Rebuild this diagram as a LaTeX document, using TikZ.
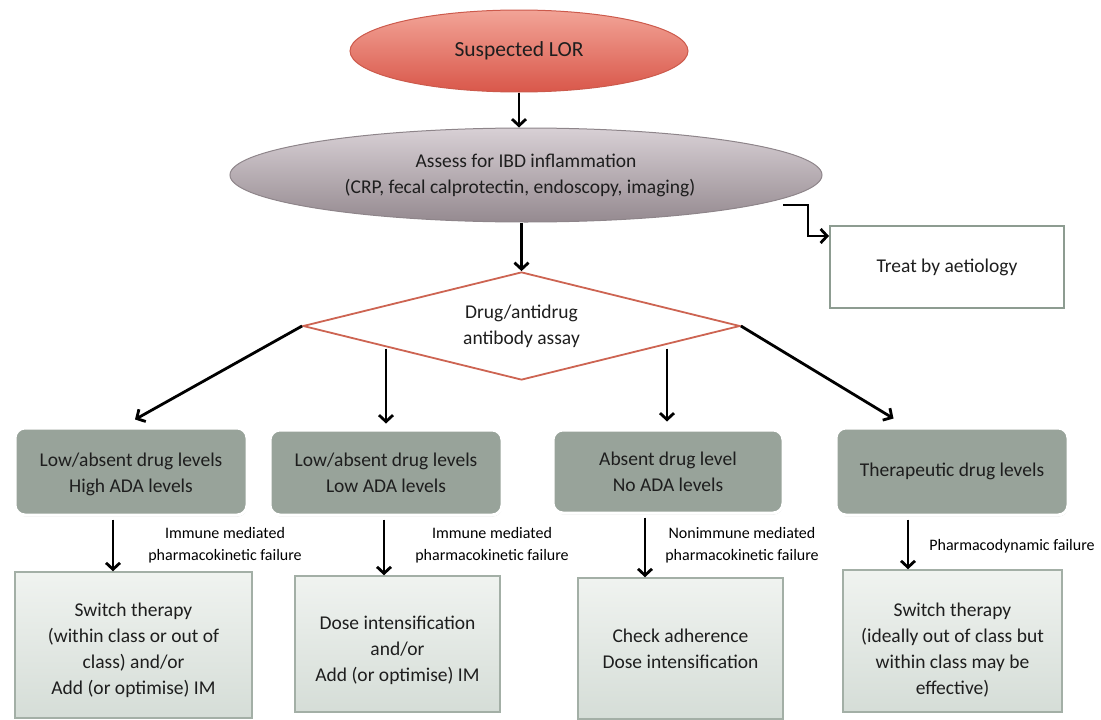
\documentclass[tikz,border=0pt]{standalone}
\usepackage{fontspec}
\setmainfont{Carlito}
\usetikzlibrary{shapes.geometric,arrows.meta,calc,shadows}
\definecolor{lorTop}{HTML}{F2A497}
\definecolor{lorBot}{HTML}{D9574A}
\definecolor{lorLine}{HTML}{CC5A4C}
\definecolor{asTop}{HTML}{D8D0D5}
\definecolor{asBot}{HTML}{958A90}
\definecolor{asLine}{HTML}{8E858A}
\definecolor{diaLine}{HTML}{CD6452}
\definecolor{gboxfill}{HTML}{98A39A}
\definecolor{bTop}{HTML}{F0F3F0}
\definecolor{bBot}{HTML}{D5DDD7}
\definecolor{bLine}{HTML}{A3AFA6}
\definecolor{tLine}{HTML}{8D9C91}
\definecolor{txt}{HTML}{1E1E1E}
\newcommand{\lowerby}[1]{\rule{0pt}{#1}}
\begin{document}
\begin{tikzpicture}[x=1pt,y=-1pt,
  font=\fontsize{19.5}{26}\selectfont, text=txt,
  arr/.style={line width=2.8pt, -{Straight Barb[length=6.5pt,width=14pt]}},
  greybox/.style={rectangle, rounded corners=10pt, fill=gboxfill, draw=white,
    line width=3pt, align=center, inner sep=2pt,
    drop shadow={shadow xshift=0.5pt, shadow yshift=-1.5pt, opacity=0.3, fill=gray}},
  actbox/.style={rectangle, top color=bTop, bottom color=bBot, draw=bLine,
    line width=1.5pt, align=center, inner sep=2pt},
  lbl/.style={font=\fontsize{16}{22}\selectfont, align=center, text=black}]
\useasboundingbox (0,0) rectangle (1101,720);

\node[ellipse, top color=lorTop, bottom color=lorBot, draw=lorLine, line width=1pt,
  minimum width=338, minimum height=82, inner sep=0pt,
  font=\fontsize{21.5}{26}\selectfont] (lor) at (519,51) {Suspected LOR};

\node[ellipse, top color=asTop, bottom color=asBot, draw=asLine, line width=1pt,
  minimum width=592, minimum height=94, inner sep=0pt, align=center] (assess) at (526,175)
  {Assess for IBD inflammation\\(CRP, fecal calprotectin, endoscopy, imaging)\hspace*{12pt}};

\node[rectangle, draw=tLine, line width=2pt, fill=white, minimum width=234,
  minimum height=82] (treat) at (947,267) {Treat by aetiology};

\node[diamond, shape aspect=4, draw=diaLine, line width=1.8pt, fill=white,
  minimum width=437, minimum height=108, inner sep=0pt, align=center] (assay)
  at (521.5,326) {Drug/antidrug\\antibody assay};

\node[greybox, minimum width=232, minimum height=87] (g1) at (131,471.5)
  {\lowerby{20pt}Low/absent drug levels\\High ADA levels};
\node[greybox, minimum width=232, minimum height=85] (g2) at (386,472.5)
  {Low/absent drug levels\\Low ADA levels};
\node[greybox, minimum width=230, minimum height=83] (g3) at (668,471.5)
  {Absent drug level\\No ADA levels};
\node[greybox, minimum width=232, minimum height=87] (g4) at (952,471.5)
  {Therapeutic drug levels};

\node[actbox, minimum width=237, minimum height=146] (b1) at (133.5,645)
  {\lowerby{24pt}Switch therapy\\(within class or out of\\class) and/or\\Add (or optimise) IM};
\node[actbox, minimum width=205, minimum height=136] (b2) at (397.5,644)
  {\lowerby{26pt}Dose intensification\\and/or\\Add (or optimise) IM};
\node[actbox, minimum width=205, minimum height=141] (b3) at (680.5,648.5)
  {Check adherence\\Dose intensification};
\node[actbox, minimum width=219, minimum height=142] (b4) at (952.5,641)
  {\lowerby{32pt}Switch therapy\\(ideally out of class but\\within class may be\\effective)};

\node[lbl] (l1) at (225,545) {Immune mediated\\pharmacokinetic failure};
\node[lbl] (l2) at (492,545) {Immune mediated\\pharmacokinetic failure};
\node[lbl] (l3) at (742,545) {Nonimmune mediated\\pharmacokinetic failure};
\node[lbl] (l4) at (1012,546) {Pharmacodynamic failure};

\coordinate (e1) at (783,205);
\coordinate (e2) at (808,205);
\coordinate (e3) at (808,236);

% connectors
\draw[arr] (lor.south) -- (lor.south |- assess.north);
\draw[arr] (assay.north |- assess.south) -- (assay.north);
\draw[arr] (e1) -- (e2) -- (e3) -- (treat.west |- e3);
\draw[arr] (assay.west) -- ($(g1.north)+(4,-7)$);
\draw[arr] (assay.east) -- ($(g4.north west)+(59,-8)$);
\draw[arr] ($(g2.north)+(0,-80)$) -- ($(g2.north)+(0,-5)$);
\draw[arr] ($(g3.north)+(-1,-80)$) -- ($(g3.north)+(-1,-7)$);
\draw[arr] ($(g1.south)+(-18,3)$) -- ($(b1.north)+(-20.5,0)$);
\draw[arr] ($(g2.south)+(-2,3)$) -- ($(b2.north)+(-13.5,0)$);
\draw[arr] ($(g3.south)+(-23,3)$) -- ($(b3.north)+(-35.5,0)$);
\draw[arr] ($(g4.south)+(-44,3)$) -- ($(b4.north)+(-44.5,0)$);
\end{tikzpicture}
\end{document}
